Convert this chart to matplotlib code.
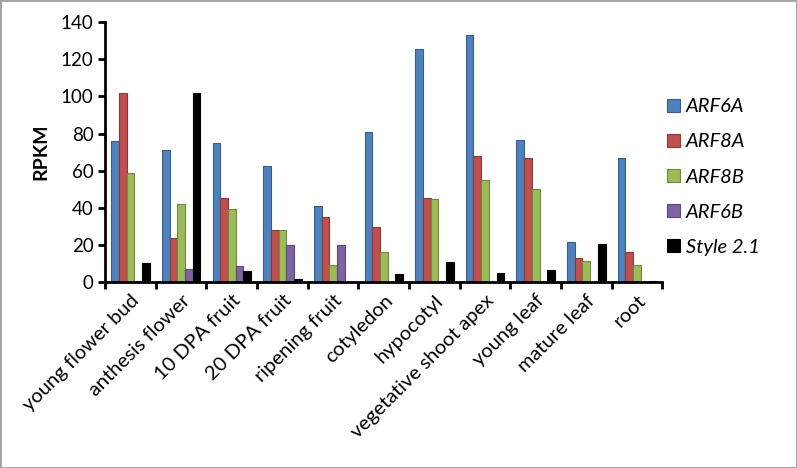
import matplotlib
matplotlib.use('Agg')
import matplotlib.pyplot as plt
import numpy as np

tecidos = ['young flower bud', 'anthesis flower', '10 DPA fruit', '20 DPA fruit',
           'ripening fruit', 'cotyledon', 'hypocotyl', 'vegetative shoot apex',
           'young leaf', 'mature leaf', 'root']
series = ['ARF6A', 'ARF8A', 'ARF8B', 'ARF6B', 'Style 2.1']
arf6a = [76, 71, 75, 62.5, 41, 81, 125.5, 133, 76.5, 21.5, 67]
arf8a = [102, 24, 45.5, 28, 35, 29.5, 45.5, 68, 67, 13, 16.5]
arf8b = [59, 42, 39.5, 28, 9, 16, 45, 55, 50, 11.5, 9]
arf6b = [0.5, 7, 8.5, 20, 20, 0, 0.5, 0.3, 0.5, 0, 0]
style21 = [10.5, 102, 6, 1.5, 0, 4.5, 11, 5, 6.5, 20.5, 0.5]

cores = ['#4F81BD', '#C0504D', '#9BBB59', '#8064A2', '#000000']
bordas = ['#385D8A', '#8C3836', '#71893F', '#5C4776', '#000000']

plt.rcParams['font.family'] = ['Lato', 'DejaVu Sans']

fig = plt.figure(figsize=(7.97, 4.68), dpi=100)
fig.patch.set_edgecolor('#A6A6A6')
fig.patch.set_linewidth(2)
ax = fig.add_axes([0.132, 0.397, 0.699, 0.556])

x = np.arange(len(tecidos))
largura = 0.152
for i, valores in enumerate([arf6a, arf8a, arf8b, arf6b, style21]):
    ax.bar(x - 2 * largura + i * largura, valores, width=largura,
           color=cores[i], edgecolor=bordas[i], linewidth=0.8, label=series[i])

ax.set_xlim(-0.5, len(tecidos) - 0.5)
ax.set_ylim(0, 140)
ax.set_yticks(range(0, 141, 20))
ax.tick_params(axis='y', labelsize=13.5, width=2, length=5, direction='out')

ax.set_xticks(np.arange(-0.5, len(tecidos), 1))
ax.set_xticklabels([])
ax.tick_params(axis='x', which='major', width=2, length=5, direction='out')
ax.set_xticks(x, minor=True)
ax.set_xticklabels(tecidos, minor=True, rotation=45, ha='right',
                   rotation_mode='anchor', fontsize=14.5)
ax.tick_params(axis='x', which='minor', length=0, pad=7)

for lado in ['top', 'right']:
    ax.spines[lado].set_visible(False)
ax.spines['left'].set_linewidth(2)
ax.spines['bottom'].set_linewidth(2)

ax.set_ylabel('RPKM', fontsize=14, fontweight='bold', labelpad=8)

leg = ax.legend(loc='center left', bbox_to_anchor=(0.975, 0.404), frameon=False,
                prop={'style': 'italic', 'size': 14.5}, handlelength=0.65,
                handleheight=0.65, labelspacing=0.9, handletextpad=0.3)

fig.savefig('out.png', dpi=100)
